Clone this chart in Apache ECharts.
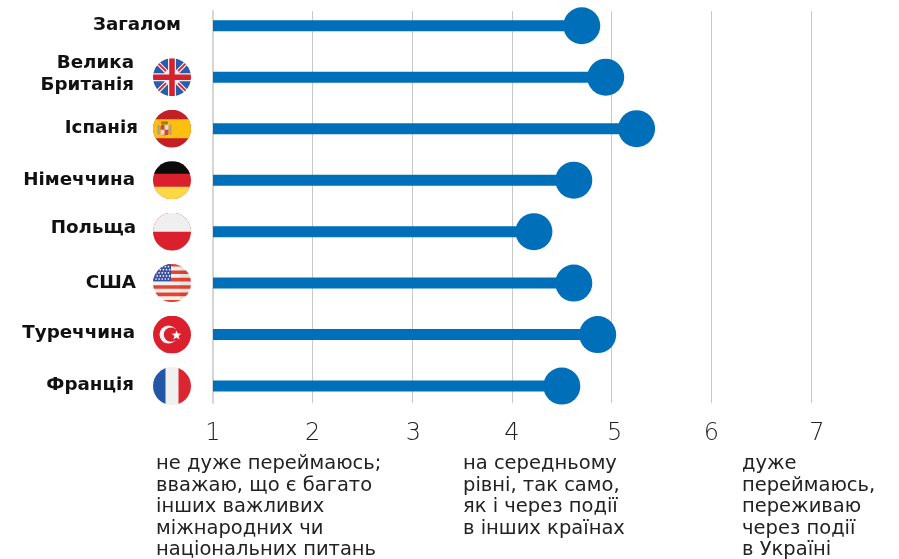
<!DOCTYPE html>
<html lang="uk">
<head>
<meta charset="utf-8">
<style>html,body{margin:0;padding:0;background:#fff}#chart{width:899px;height:559px}</style>
<script src="https://cdn.jsdelivr.net/npm/echarts@6/dist/echarts.min.js"></script>
</head>
<body>
<div id="chart"></div>
<script>
// Concern about events in Ukraine by country, mean score on a 1-7 scale
const countries = ['Загалом', 'Велика\nБританія', 'Іспанія', 'Німеччина', 'Польща', 'США', 'Туреччина', 'Франція'];
const scores = [4.7, 4.94, 5.25, 4.62, 4.22, 4.62, 4.86, 4.5];
const scaleTicks = [1, 2, 3, 4, 5, 6, 7];
const flagCodes = ['', 'gb', 'es', 'de', 'pl', 'us', 'tr', 'fr'];
const captionLow = 'не дуже переймаюсь;\nвважаю, що є багато\nінших важливих\nміжнародних чи\nнаціональних питань';
const captionMid = 'на середньому\nрівні, так само,\nяк і через події\nв інших країнах';
const captionHigh = 'дуже\nпереймаюсь,\nпереживаю\nчерез події\nв Україні';

const BLUE = '#006fb9';
const FONT = '"DejaVu Sans", sans-serif';

// Flags are small round SVGs used as axis label backgrounds
function roundFlag(body) {
  const svg = '<svg xmlns="http://www.w3.org/2000/svg" width="38" height="38" viewBox="0 0 38 38">' +
    '<defs><clipPath id="c"><circle cx="19" cy="19" r="19"/></clipPath></defs>' +
    '<g clip-path="url(#c)">' + body + '</g></svg>';
  return 'data:image/svg+xml;charset=utf-8,' + encodeURIComponent(svg);
}
function usArt() {
  let s = '<rect width="38" height="38" fill="#f0f0f0"/>';
  for (let y = -1.1; y < 38; y += 7.4) s += '<rect y="' + y + '" width="38" height="3.6" fill="#e8432e"/>';
  s += '<rect width="18" height="17" fill="#3a4f9f"/>';
  for (let r = 0; r < 5; r++) for (let c = 0; c < 5; c++) {
    s += '<circle cx="' + (3 + c * 3.1 + (r % 2) * 1.2) + '" cy="' + (2.5 + r * 3.1) + '" r="0.85" fill="#f4f4f4"/>';
  }
  return s + '<rect x="27" width="11" height="38" fill="#000" opacity="0.05"/>';
}
const flagArt = {
  gb: '<rect width="38" height="38" fill="#f0f0f0"/>' +
      '<path d="M3 0H15V12ZM23 0H35L23 12ZM0 3L12 15H0ZM38 3V15H26ZM0 23H12L0 35ZM26 23H38V35ZM15 26V38H3ZM23 26L35 38H23Z" fill="#2a5cab"/>' +
      '<path d="M5 5L13 13M33 5L25 13M5 33L13 25M33 33L25 25" stroke="#d8202c" stroke-width="1.8"/>' +
      '<path d="M19 0V38M0 19H38" stroke="#d8202c" stroke-width="5.5"/>',
  es: '<rect width="38" height="38" fill="#c22026"/><rect y="9.5" width="38" height="19" fill="#fdc010"/>' +
      '<rect x="4.5" y="15" width="2.2" height="10" fill="#a9a08a"/><rect x="16.3" y="15" width="2.2" height="10" fill="#a9a08a"/>' +
      '<rect x="7.5" y="15" width="8" height="10.5" rx="2" fill="#c8483a"/><rect x="11.5" y="15" width="4" height="5" fill="#e9dcc0"/><rect x="7.5" y="20" width="4" height="5" fill="#e9dcc0"/>' +
      '<rect x="8" y="11.5" width="7" height="3.2" rx="1" fill="#a9781f"/>',
  de: '<rect width="38" height="38" fill="#d9202c"/><rect width="38" height="12.5" fill="#0b0b0b"/><rect y="25.5" width="38" height="12.5" fill="#fdd846"/>',
  pl: '<rect width="38" height="38" fill="#d9202c"/><rect width="38" height="19" fill="#efefef"/>',
  us: usArt(),
  tr: '<rect width="38" height="38" fill="#dc1f2d"/><circle cx="15.5" cy="19" r="9" fill="#f4f4f4"/><circle cx="18" cy="19" r="7.2" fill="#dc1f2d"/>' +
      '<path d="M23.5 14.8l1.3 3.2 3.5.2-2.7 2.2 1 3.4-3.1-2-3.1 2 1-3.4-2.7-2.2 3.5-.2z" fill="#f4f4f4"/>',
  fr: '<rect width="38" height="38" fill="#f0f0f0"/><rect width="12.5" height="38" fill="#2356a6"/><rect x="25.5" width="12.5" height="38" fill="#dc2530"/>'
};

const nameStyle = { fontFamily: FONT, fontWeight: 'bold', fontSize: 18.3, color: '#111', lineHeight: 22, align: 'right' };
// Per-row nudges of the country names: [right inset, shift up]
const nameNudge = { 1: [4, 6], 3: [3, 0], 4: [2, 7], 5: [2, 0], 6: [3, 2], 7: [4, 2] };

const nameRich = { plain: nameStyle };
Object.keys(nameNudge).forEach(function (k) {
  const n = nameNudge[k];
  nameRich['n' + k] = Object.assign({}, nameStyle, { padding: [0, n[0], n[1], 0] });
});
const flagRich = {
  overall: Object.assign({}, nameStyle, { padding: [0, 10, 0, 0] })
};
flagCodes.forEach(function (code) {
  if (code) flagRich[code] = { width: 38, height: 38, backgroundColor: { image: roundFlag(flagArt[code]) } };
});

const captionStyle = { fontFamily: FONT, fontSize: 19.5, lineHeight: 21.5, fill: '#222', textVerticalAlign: 'top' };
function caption(x, text) {
  return { type: 'text', left: x, top: 453.5, style: Object.assign({ text: text, x: 0, y: 0 }, captionStyle) };
}

// Hand-set insets that centre the wider numerals on their gridlines
const tickStyle = { fontFamily: FONT, fontSize: 24, fontWeight: 200, color: '#222' };
const tickInset = { 3: 2, 5: 6, 7: 12 };
const tickRich = { t: tickStyle };
Object.keys(tickInset).forEach(function (k) {
  tickRich['t' + k] = Object.assign({}, tickStyle, { padding: [0, 0, 0, tickInset[k]] });
});

const chart = echarts.init(document.getElementById('chart'), null, { renderer: 'canvas' });
chart.setOption({
  animation: false,
  backgroundColor: '#fff',
  grid: [
    { left: 213, width: 598, top: 11, height: 392 },
    { left: 213, width: 598, top: -0.6, height: 412.4 }
  ],
  xAxis: [
    {
      gridIndex: 0, type: 'value', min: scaleTicks[0], max: scaleTicks[scaleTicks.length - 1], interval: 1,
      axisLine: { show: false }, axisTick: { show: false },
      splitLine: { show: true, lineStyle: { color: '#c8c8c8', width: 1 } },
      axisLabel: {
        margin: 19, showMinLabel: true, showMaxLabel: true, rich: tickRich,
        formatter: function (v) { return '{' + (tickInset[v] ? 't' + v : 't') + '|' + v + '}'; }
      }
    },
    {
      gridIndex: 1, type: 'value', min: scaleTicks[0], max: scaleTicks[scaleTicks.length - 1], interval: 1,
      show: false, splitLine: { show: false }
    }
  ],
  yAxis: [
    {
      gridIndex: 0, type: 'value', position: 'left', splitLine: { show: false },
      axisLabel: { show: false }, axisTick: { show: false },
      axisLine: { show: true, lineStyle: { color: '#d6d6d6', width: 2 } }
    },
    {
      gridIndex: 1, type: 'category', inverse: true, position: 'left', data: countries,
      axisLine: { show: false }, axisTick: { show: false }, splitLine: { show: false },
      axisLabel: {
        interval: 0, margin: 75, rich: nameRich,
        formatter: function (value, i) {
          if (i === 0) return '';
          const key = nameNudge[i] ? 'n' + i : 'plain';
          return value.split('\n').map(function (line) { return '{' + key + '|' + line + '}'; }).join('\n');
        }
      }
    },
    {
      gridIndex: 1, type: 'category', inverse: true, position: 'left', data: countries,
      axisLine: { show: false }, axisTick: { show: false }, splitLine: { show: false },
      axisLabel: {
        interval: 0, margin: 22, rich: flagRich,
        formatter: function (value, i) {
          return flagCodes[i] ? '{' + flagCodes[i] + '|}' : '{overall|' + value + '}';
        }
      }
    }
  ],
  series: [
    {
      type: 'bar', xAxisIndex: 1, yAxisIndex: 1, data: scores, barWidth: 11,
      itemStyle: { color: BLUE }, silent: true
    },
    {
      type: 'scatter', xAxisIndex: 1, yAxisIndex: 1, symbol: 'circle', symbolSize: 37, clip: false,
      data: scores.map(function (v, i) { return [v, i]; }),
      itemStyle: { color: BLUE, opacity: 1 }, silent: true
    }
  ],
  graphic: [caption(156, captionLow), caption(463, captionMid), caption(742, captionHigh)]
});
</script>
</body>
</html>
